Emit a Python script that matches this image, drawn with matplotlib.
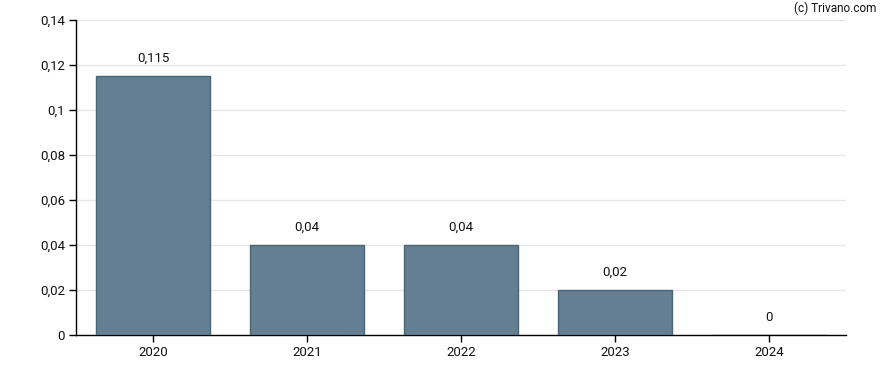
import matplotlib
matplotlib.use("Agg")
from matplotlib import pyplot

pyplot.rcParams["font.family"] = ["Roboto", "DejaVu Sans"]

# 年ごとの配当
years = ["2020", "2021", "2022", "2023", "2024"]
values = [0.115, 0.04, 0.04, 0.02, 0]
value_labels = ["0,115", "0,04", "0,04", "0,02", "0"]
y_ticks = [0, 0.02, 0.04, 0.06, 0.08, 0.1, 0.12, 0.14]
y_tick_labels = ["0", "0,02", "0,04", "0,06", "0,08", "0,1", "0,12", "0,14"]


def make_graph():
    fig = pyplot.figure(figsize=(8.88, 3.7), dpi=100)
    ax = fig.add_axes([76 / 888, 1 - 335 / 370, 770 / 888, 315 / 370])

    x = list(range(len(years)))
    ax.bar(x, values, width=0.74, color="#657f92", edgecolor="#4b6577", linewidth=1, zorder=3)

    for xi, v, lab in zip(x, values, value_labels):
        ax.annotate(lab, (xi, v), xytext=(0, 8), textcoords="offset points",
                    ha="center", va="bottom", fontsize=9.5, color="#111111")

    ax.set_xlim(-0.5, 4.5)
    ax.set_ylim(0, 0.14)
    ax.set_xticks(x)
    ax.set_xticklabels(years)
    ax.set_yticks(y_ticks)
    ax.set_yticklabels(y_tick_labels)
    ax.tick_params(axis="both", labelsize=9.5, length=5, width=1, color="black", labelcolor="#111111")
    ax.tick_params(axis="x", pad=3)
    ax.tick_params(axis="y", pad=3)

    ax.grid(axis="y", color="#e6e6e6", linewidth=1, zorder=0)
    ax.spines["top"].set_visible(False)
    ax.spines["right"].set_visible(False)
    ax.spines["left"].set_linewidth(1)
    ax.spines["bottom"].set_linewidth(1)

    fig.text(876 / 888, 1 - 8 / 370, "(c) Trivano.com", ha="right", va="center", fontsize=8.5, color="#111111")

    fig.savefig("out.png", dpi=100)


if __name__ == "__main__":
    make_graph()
